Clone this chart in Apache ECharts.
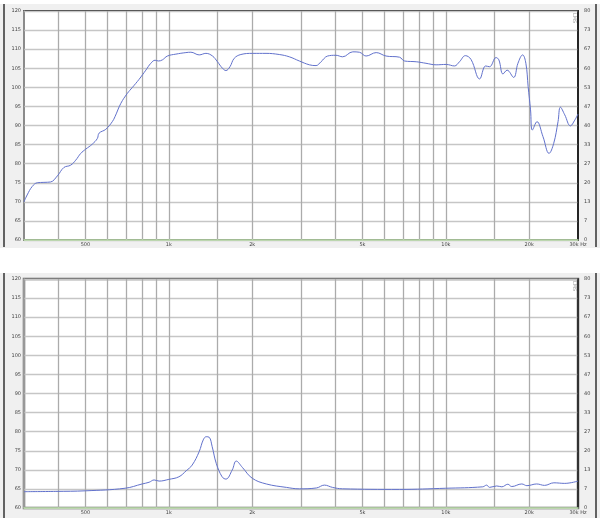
<!DOCTYPE html>
<html>
<head>
<meta charset="utf-8">
<script src="https://cdn.jsdelivr.net/npm/echarts@6/dist/echarts.min.js"></script>
<style>html,body{margin:0;padding:0;background:#fff}#c{width:600px;height:518px}</style>
</head>
<body>
<div id="c"></div>
<script>
// Frequency response (dB)
const splFreq = [300,308,321,335,354,374,396,418,442,461,481,501,529,552,560,592,625,639,671,708,739,781,826,861,892,917,948,988,1060,1152,1201,1287,1361,1438,1498,1562,1607,1662,1722,1820,2006,2243,2504,2722,2959,3216,3400,3543,3742,4010,4241,4614,4874,5152,5605,6085,6803,7090,7817,8478,9222,10030,10740,11200,11760,12330,13240,13920,14380,15180,15540,16080,16640,17570,18210,18930,19450,19820,20220,20530,21330,22420,23580,24510,25410,25920,26870,28170,29200,30000];
const splDb   = [70.0,71.8,74.0,75.0,75.1,75.2,76.8,79.0,79.6,80.9,82.7,83.8,85.1,86.6,88.0,89.0,91.0,92.3,95.8,98.4,100.0,102.1,104.5,106.3,107.1,106.9,107.2,108.2,108.7,109.1,109.2,108.5,108.9,108.2,106.7,105.0,104.4,105.4,107.6,108.6,108.9,108.9,108.6,108.0,106.9,105.9,105.7,106.7,108.2,108.4,108.0,109.3,109.2,108.2,109.1,108.2,107.9,106.9,106.7,106.3,105.9,106.0,105.6,106.7,108.3,107.3,102.2,105.6,105.4,107.8,107.2,103.5,104.5,102.6,106.3,108.5,106.3,100.2,94.1,88.8,91.0,87.1,82.7,85.3,91.0,94.8,92.8,89.9,91.4,93.0];
// Impedance (Ohm)
const impFreq = [300,391,500,695,801,849,885,922,1000,1087,1155,1214,1287,1331,1364,1399,1434,1483,1557,1607,1694,1751,1842,2000,2248,2656,2959,3411,3644,3896,4232,6802,10000,13590,14040,14380,15260,15930,16740,17300,18800,19620,21280,22720,24550,26870,30000];
const impOhm  = [5.7,5.8,6.0,6.9,8.4,9.0,9.8,9.4,10.0,10.9,13.0,15.0,19.7,23.8,24.9,24.7,21.4,15.6,10.9,10.1,13.3,16.4,14.2,10.4,8.4,7.2,6.7,7.0,8.0,7.2,6.7,6.5,6.9,7.4,8.0,7.2,7.7,7.4,8.3,7.5,8.4,7.8,8.4,7.9,8.8,8.6,9.4];
// Axis ticks / labels
const gridFreqs = [400,500,600,700,800,900,1000,1500,2000,3000,4000,5000,6000,7000,8000,9000,10000,15000,20000];
const labelFreqs = [500,1000,2000,5000,10000,20000,30000];
const labelText = {500:'500',1000:'1k',2000:'2k',5000:'5k',10000:'10k',20000:'20k',30000:'30k Hz'};

const chart = echarts.init(document.getElementById('c'), null, {renderer:'canvas'});
const tiny = 5, txt = '#444';
function xAxisDef(gi){
  return {
    type:'log', gridIndex:gi, min:300, max:30000,
    axisLine:{show:true, onZero:false, lineStyle:{color:'#b9dca8', width:1.5}},
    axisTick:{show:false, customValues:gridFreqs},
    splitLine:{show:true, lineStyle:{color:'#ababab', width:1.3}},
    axisLabel:{customValues:labelFreqs, fontSize:tiny, margin:2, color:txt, fontFamily:'DejaVu Sans',
      formatter:v=>labelText[Math.round(v)]||''}
  };
}
function yLeft(gi){
  return {type:'value', gridIndex:gi, min:60, max:120, interval:5, position:'left',
    name:'dB', nameLocation:'middle', nameGap:13, nameRotate:90,
    nameTextStyle:{fontSize:tiny, color:txt, fontFamily:'DejaVu Sans'},
    axisLine:{show:true, lineStyle:{color:'#aaaaaa', width:1.5}},
    axisTick:{show:false},
    splitLine:{show:true, lineStyle:{color:'#c6c6c6', width:1.3}},
    axisLabel:{fontSize:tiny, margin:3, color:txt, fontFamily:'DejaVu Sans'}};
}
function yRight(gi){
  return {type:'value', gridIndex:gi, min:0, max:80, interval:80/12, position:'right',
    name:'Ohm', nameLocation:'middle', nameGap:14, nameRotate:90,
    nameTextStyle:{fontSize:tiny, color:txt, fontFamily:'DejaVu Sans'},
    axisLine:{show:true, lineStyle:{color:'#222', width:1.5}},
    axisTick:{show:false}, splitLine:{show:false},
    axisLabel:{fontSize:tiny, margin:6, color:txt, fontFamily:'DejaVu Sans', formatter:v=>String(Math.round(v))}};
}
const option = {
  animation:false,
  backgroundColor:'#ffffff',
  graphic:[
    {type:'rect', z:-5, shape:{x:0,y:4,width:600,height:244}, style:{fill:'#f0f0f0'}, silent:true},
    {type:'rect', z:-5, shape:{x:0,y:273,width:600,height:245}, style:{fill:'#f0f0f0'}, silent:true},
    {type:'line', z:-4, shape:{x1:4,y1:4,x2:4,y2:247}, style:{stroke:'#333', lineWidth:1.5}},
    {type:'line', z:-4, shape:{x1:596,y1:4,x2:596,y2:247}, style:{stroke:'#333', lineWidth:1.5}},
    {type:'line', z:-4, shape:{x1:4,y1:273,x2:4,y2:518}, style:{stroke:'#333', lineWidth:1.5}},
    {type:'line', z:-4, shape:{x1:596,y1:273,x2:596,y2:518}, style:{stroke:'#333', lineWidth:1.5}},
    {type:'text', z:50, x:577, y:13, rotation:-Math.PI/2, style:{text:'LMS', fontSize:5, fill:'#999', fontFamily:'DejaVu Sans'}},
    {type:'text', z:50, x:577, y:281, rotation:-Math.PI/2, style:{text:'LMS', fontSize:5, fill:'#999', fontFamily:'DejaVu Sans'}}
  ],
  grid:[
    {left:24, right:22, top:11, height:229, outerBoundsMode:'none', show:true, backgroundColor:'#ffffff', borderColor:'#333', borderWidth:2},
    {left:24, right:22, top:279, height:229, outerBoundsMode:'none', show:true, backgroundColor:'#ffffff', borderColor:'#666', borderWidth:2.5}
  ],
  xAxis:[xAxisDef(0), xAxisDef(1)],
  yAxis:[yLeft(0), yRight(0), yLeft(1), yRight(1)],
  series:[
    {type:'line', xAxisIndex:0, yAxisIndex:0, data:splFreq.map((f,i)=>[f,splDb[i]]),
      smooth:0.4, showSymbol:false, lineStyle:{color:'#6272cc', width:1}, z:10},
    {type:'line', xAxisIndex:1, yAxisIndex:3, data:impFreq.map((f,i)=>[f,impOhm[i]]),
      smooth:0.4, showSymbol:false, lineStyle:{color:'#6272cc', width:1}, z:10}
  ]
};
chart.setOption(option);
</script>
</body>
</html>
